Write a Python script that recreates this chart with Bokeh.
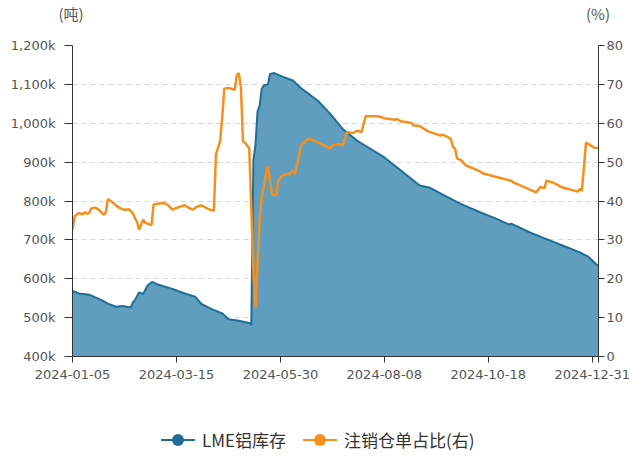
from bokeh.plotting import figure
from bokeh.models import Range1d, LinearAxis, FixedTicker, Div
from bokeh.layouts import column
from bokeh.embed import file_html
from bokeh.resources import INLINE

# ---- data (trading-day index from 2024-01-05) ----
tick_days = [0, 50, 100, 150, 200, 250, 253]
tick_dates = ["2024-01-05", "2024-03-15", "2024-05-30", "2024-08-08", "2024-10-18", "2024-12-31", ""]
last_day = 253

# LME aluminium stocks, thousand tonnes
stock_day = [0, 3, 8, 11, 14, 17, 21, 24, 28, 29, 30, 32, 34, 36, 38, 39, 41, 48, 54, 59,
             62, 67, 72, 75, 80, 85, 86, 87, 88, 89, 90, 91, 92, 94, 95, 97, 101, 106, 110,
             118, 124, 130, 137, 150, 156, 162, 167, 172, 179, 187, 196, 204, 210, 211,
             220, 228, 236, 244, 248, 251, 253]
stock_kt = [569, 562, 559, 552, 545, 536, 528, 530, 526, 539, 545, 565, 561, 582, 591, 591, 585, 574, 562, 554,
            535, 522, 511, 496, 492, 486, 482, 904, 945, 1030, 1045, 1088, 1097, 1100, 1127, 1129, 1120, 1110, 1090,
            1058, 1024, 985, 955, 912, 887, 861, 840, 834, 814, 792, 771, 754, 739, 742,
            719, 702, 685, 668, 657, 642, 632]

# cancelled warrants share, %
ratio_day = [0, 1, 3, 5, 6, 7, 8, 9, 11, 13, 15, 16, 17, 19, 21, 23, 25, 27, 29, 30, 31, 32, 34, 35,
             37, 38, 39, 41, 44, 46, 48, 50, 52, 54, 56, 58, 60, 62, 65, 67, 68, 69, 71, 72, 73,
             75, 78, 79, 80, 81, 82, 83, 85, 86, 87, 88, 89, 90, 91, 92, 93, 94, 95, 96, 98, 99,
             101, 104, 106, 107, 110, 112, 114, 118, 121, 124, 125, 128, 130, 132, 135, 137, 139,
             141, 147, 150, 155, 156, 158, 163, 164, 167, 171, 177, 178, 181, 182, 183, 184, 185,
             187, 189, 195, 198, 211, 212, 223, 225, 227, 228, 231, 236, 239, 243, 244, 245, 247,
             248, 251, 253]
ratio_pct = [32.6, 36.0, 36.9, 36.6, 37.1, 36.7, 36.9, 38.1, 38.3, 37.6, 36.4, 37.0, 40.5, 39.8, 38.8, 38.1,
             37.7, 37.9, 36.9, 35.6, 34.7, 32.6, 35.2, 34.4, 34.0, 33.8, 39.1, 39.3, 39.5, 38.9, 37.8,
             38.2, 38.6, 38.9, 38.2, 37.8, 38.6, 38.9, 38.0, 37.6, 37.5, 52.0, 55.4, 61.4, 68.9, 69.1,
             68.6, 72.3, 72.9, 69.3, 55.4, 55.0, 53.6, 38.0, 22.0, 12.6, 24.0, 35.0, 41.0, 43.4, 46.9,
             49.0, 45.2, 41.7, 41.5, 45.2, 46.7, 46.9, 47.7, 46.9, 54.3, 55.5, 56.0, 55.1, 54.3, 53.5,
             54.3, 54.7, 54.3, 57.7, 57.5, 58.1, 57.7, 61.8, 61.8, 61.3, 60.9, 61.1, 60.5, 60.1, 59.4,
             59.3, 57.9, 56.8, 57.1, 56.3, 55.9, 53.9, 53.5, 50.9, 50.5, 49.2, 47.9, 47.0, 45.2, 44.8,
             42.2, 43.6, 43.3, 45.2, 44.8, 43.4, 43.0, 42.4, 43.1, 42.6, 55.0, 54.7, 53.7, 53.6]

left_ticks = [400, 500, 600, 700, 800, 900, 1000, 1100, 1200]
left_labels = ["400k", "500k", "600k", "700k", "800k", "900k", "1,000k", "1,100k", "1,200k"]
right_ticks = [0, 10, 20, 30, 40, 50, 60, 70, 80]

series_names = ["LME铝库存", "注销仓单占比(右)"]
unit_left = "(吨)"
unit_right = "(%)"

BLUE = "#1e6e96"
FILL = "#5f9ebf"
ORANGE = "#f5901e"
AXIS = "#333333"
LABEL = "#555555"
FONT = "DejaVu Sans"
CJK = "Noto Sans CJK SC"

W = 634

p = figure(width=W, height=356, output_backend="svg", toolbar_location=None,
           x_range=Range1d(0, last_day), y_range=Range1d(left_ticks[0], left_ticks[-1]),
           min_border_left=72, min_border_right=W - 598, min_border_top=17, min_border_bottom=28,
           margin=0)
p.extra_y_ranges = {"pct": Range1d(right_ticks[0], right_ticks[-1])}
p.outline_line_color = None
p.xgrid.visible = False
p.ygrid.ticker = FixedTicker(ticks=left_ticks)
p.ygrid.grid_line_color = "#d6d6d6"
p.ygrid.grid_line_dash = "5 4"

def style_axis(ax, tick_out=6, standoff=6):
    ax.axis_line_color = AXIS
    ax.axis_line_width = 1
    ax.major_tick_line_color = AXIS
    ax.major_tick_out = tick_out
    ax.major_tick_in = 0
    ax.minor_tick_line_color = None
    ax.major_label_text_font = FONT
    ax.major_label_text_font_size = "13px"
    ax.major_label_text_color = LABEL
    ax.major_label_standoff = standoff

xa = p.xaxis[0]
xa.ticker = FixedTicker(ticks=tick_days)
xa.major_label_overrides = {d: s for d, s in zip(tick_days, tick_dates)}
style_axis(xa, tick_out=6, standoff=7)

yl = p.yaxis[0]
yl.ticker = FixedTicker(ticks=left_ticks)
yl.major_label_overrides = {t: s for t, s in zip(left_ticks, left_labels)}
style_axis(yl, tick_out=8, standoff=9)

yr = LinearAxis(y_range_name="pct", ticker=FixedTicker(ticks=right_ticks))
style_axis(yr, tick_out=6, standoff=2)
p.add_layout(yr, "right")

p.varea(x=stock_day, y1=left_ticks[0], y2=stock_kt, fill_color=FILL, fill_alpha=1)
p.line(stock_day, stock_kt, line_color=BLUE, line_width=2)
p.line(ratio_day, ratio_pct, y_range_name="pct", line_color=ORANGE, line_width=2.5)

# ---- unit captions (top) ----
def cap(text, cx):
    return (f'<div style="position:absolute;left:{cx - 30}px;top:3px;width:60px;text-align:center;'
            f'font-family:\'{CJK}\';font-size:15px;line-height:22px;color:{LABEL}">{text}</div>')

top_div = Div(text=f'<div style="position:relative;width:{W}px;height:28px">'
                   + cap(unit_left, 71) + cap(unit_right, 598) + '</div>',
              width=W, height=28, margin=0)

# ---- legend (bottom) ----
def item(x0, color, label):
    return (f'<div style="position:absolute;left:{x0}px;top:55px;width:34px;height:2px;background:{color}"></div>'
            f'<div style="position:absolute;left:{x0 + 11}px;top:50px;width:12px;height:12px;'
            f'border-radius:50%;background:{color}"></div>'
            f'<div style="position:absolute;left:{x0 + 41}px;top:44px;white-space:nowrap;'
            f'font-family:\'{CJK}\';font-size:17px;line-height:24px;color:#333333">{label}</div>')

leg_div = Div(text=f'<div style="position:relative;width:{W}px;height:75px">'
                   + item(161, BLUE, series_names[0]) + item(303, ORANGE, series_names[1]) + '</div>',
              width=W, height=75, margin=0)

layout = column(top_div, p, leg_div, spacing=0, margin=0)

open("out.html", "w").write(file_html(layout, INLINE))
